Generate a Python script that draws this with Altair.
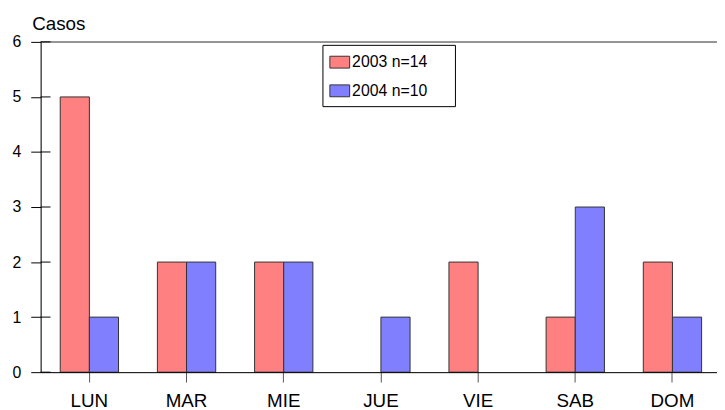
import altair as alt
import pandas as pd

# Data
dias = ["LUN", "MAR", "MIE", "JUE", "VIE", "SAB", "DOM"]
casos_2003 = [5, 2, 2, 0, 2, 1, 2]
casos_2004 = [1, 2, 2, 1, 0, 3, 1]
series = ["2003 n=14", "2004 n=10"]
colores = ["#FF8080", "#8080FF"]
y_ticks = [0, 1, 2, 3, 4, 5, 6]

rows = []
for s, vals in zip(series, [casos_2003, casos_2004]):
    for d, v in zip(dias, vals):
        if v > 0:
            rows.append({"dia": d, "serie": s, "casos": v})
df = pd.DataFrame(rows)
ticks_df = pd.DataFrame({"t": y_ticks})
top_df = pd.DataFrame({"t": [max(y_ticks)]})

FONT = "Liberation Sans"

bars = alt.Chart(df).mark_bar(stroke="#333333", strokeWidth=1).encode(
    x=alt.X(
        "dia:N",
        sort=dias,
        scale=alt.Scale(paddingInner=0.4, paddingOuter=0.18, align=0.56),
        axis=alt.Axis(
            title=None, labelAngle=0, labelFontSize=19, labelColor="black",
            labelPadding=10, tickSize=10, tickColor="#555555", tickWidth=1,
            domainColor="black", domainWidth=1, zindex=1, labelFont=FONT,
        ),
    ),
    xOffset=alt.XOffset("serie:N", sort=series,
                        scale=alt.Scale(paddingInner=0, paddingOuter=0)),
    y=alt.Y(
        "casos:Q",
        scale=alt.Scale(domain=[0, max(y_ticks)], nice=False),
        axis=alt.Axis(
            values=y_ticks, format="d", grid=False, title="Casos", titleAngle=0,
            titleAlign="left", titleBaseline="alphabetic", titleX=-9, titleY=-13,
            titleFontSize=19, titleFontWeight="normal", titleFont=FONT,
            titleColor="black",
            labelFontSize=16, labelColor="black", labelPadding=10, labelFont=FONT,
            tickSize=10, tickColor="black", tickWidth=1,
            domainColor="black", domainWidth=1, zindex=1,
        ),
    ),
    color=alt.Color(
        "serie:N",
        scale=alt.Scale(domain=series, range=colores),
        legend=alt.Legend(
            orient="none", legendX=285, legendY=3, padding=7,
            title=".", titleOrient="right", titlePadding=16, titleOpacity=0,
            titleFontSize=16,
            strokeColor="black", fillColor="white",
            symbolType="M-1,-0.6H1V0.6H-1Z", symbolSize=400,
            symbolStrokeColor="#333333", symbolStrokeWidth=1, symbolOpacity=1,
            labelFontSize=16, labelFont=FONT, labelColor="black",
            labelOffset=2, rowPadding=10,
        ),
    ),
)

top_line = alt.Chart(top_df).mark_rule(color="#777777", strokeWidth=1.5).encode(
    y=alt.Y("t:Q")
)

inner_ticks = alt.Chart(ticks_df).mark_rule(color="black", strokeWidth=1).encode(
    y=alt.Y("t:Q"),
    x=alt.value(0),
    x2=alt.value(10),
)

chart = alt.layer(top_line, bars, inner_ticks).properties(
    width=684,
    height=334,
    autosize=alt.AutoSizeParams(type="none"),
    padding={"left": 33, "top": 32, "right": 0, "bottom": 36},
).configure_view(stroke=None).configure(font=FONT)

chart.save("out.html", embed_options={"renderer": "svg", "actions": False})
